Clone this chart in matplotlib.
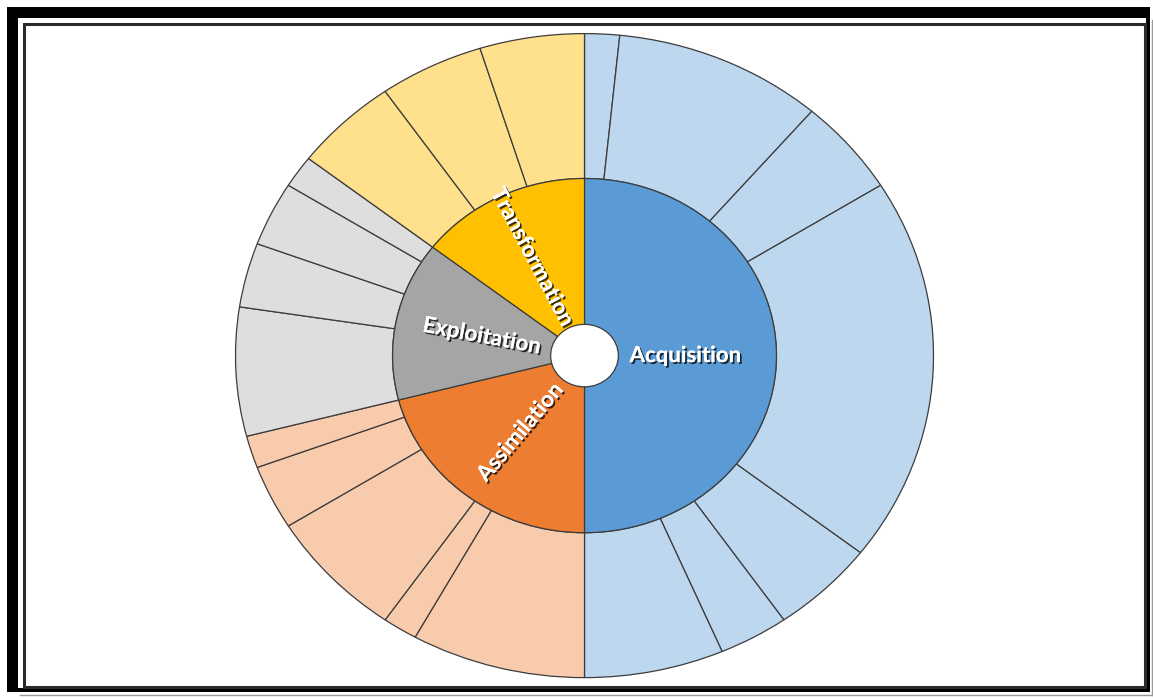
import numpy as np
import matplotlib
matplotlib.use('Agg')
import matplotlib.pyplot as plt
import matplotlib.patheffects as pe
from matplotlib.patches import Rectangle

# 內圈分類與數值
categories = ['Acquisition', 'Assimilation', 'Exploitation', 'Transformation']
inner_values = [31, 13, 9, 9]

# 外圈各分類的子項目數值 (順時針, 從12點鐘開始)
acquisition_sub = [1, 6, 3, 12, 3, 2, 4]
assimilation_sub = [5, 1, 4, 2, 1]
exploitation_sub = [4, 2, 2, 1]
transformation_sub = [3, 3, 3]

inner_colors = ['#5B9BD5', '#ED7D31', '#A5A5A5', '#FFC000']
outer_colors = ['#BDD7EE', '#F8CBAD', '#DEDEDE', '#FFE08C']

W, H = 1153, 699
cx, cy = 584.5, 355.6   # 圓心 (像素)
rx, ry = 349.0, 322.0   # 外圈半徑 (橢圓)

fig = plt.figure(figsize=(W / 100, H / 100), dpi=100)
fig.patch.set_facecolor('white')

ax = fig.add_axes([0, 0, 1, 1])
outer_groups = [acquisition_sub, assimilation_sub, exploitation_sub, transformation_sub]
outer_values = [v for g in outer_groups for v in g]
outer_cols = [outer_colors[i] for i, g in enumerate(outer_groups) for _ in g]

edge = '#3c3c3c'
ax.pie(outer_values, radius=1.0, startangle=90, counterclock=False, colors=outer_cols,
       wedgeprops=dict(width=0.45, edgecolor=edge, linewidth=0.9))
r_in, r_hole = 0.55, 0.097
ax.pie(inner_values, radius=r_in, startangle=90, counterclock=False,
       colors=inner_colors,
       wedgeprops=dict(width=r_in - r_hole, edgecolor=edge, linewidth=0.9))

ax.set_aspect('auto')
ax.set_xlim((0 - cx) / rx, (W - cx) / rx)
ax.set_ylim((cy - H) / ry, (cy - 0) / ry)
ax.axis('off')

# 標籤 (label_r: 各標籤距圓心的位置)
label_r = [0.29, 0.30, 0.30, 0.34]
total = sum(inner_values)
start = 90.0
shadow = [pe.withSimplePatchShadow(offset=(1.3, -1.3), shadow_rgbFace='black', alpha=0.75),
          pe.Normal()]
for name, val, r in zip(categories, inner_values, label_r):
    span = 360.0 * val / total
    mid = np.radians(start - span / 2)
    start -= span
    x, y = r * np.cos(mid), r * np.sin(mid)
    rot = np.degrees(np.arctan2(np.sin(mid) * ry, np.cos(mid) * rx))
    while rot > 90:
        rot -= 180
    while rot <= -90:
        rot += 180
    ax.text(x, y, name, ha='center', va='center', rotation=rot, rotation_mode='anchor',
            color='white', fontsize=16, fontweight='bold', family=['Lato', 'DejaVu Sans'],
            path_effects=shadow)

# 外框
fa = fig.add_axes([0, 0, 1, 1], zorder=5)
fa.set_xlim(0, W)
fa.set_ylim(H, 0)
fa.axis('off')
fa.patch.set_alpha(0)
for (x0, y0, w, h) in [(7, 7, 1143, 11), (7, 7, 11, 685), (1146, 7, 4, 685), (7, 688, 1143, 4)]:
    fa.add_patch(Rectangle((x0, y0), w, h, facecolor='black', edgecolor='none'))
fa.add_patch(Rectangle((23.5, 23.5), 1121, 663, facecolor='none', edgecolor='#2a2a2a', linewidth=2.2))
fa.plot([1152, 1152], [20, 695], color='#999999', linewidth=1)
fa.plot([20, 1152], [695, 695], color='#999999', linewidth=1)

fig.savefig('out.png', dpi=100)
